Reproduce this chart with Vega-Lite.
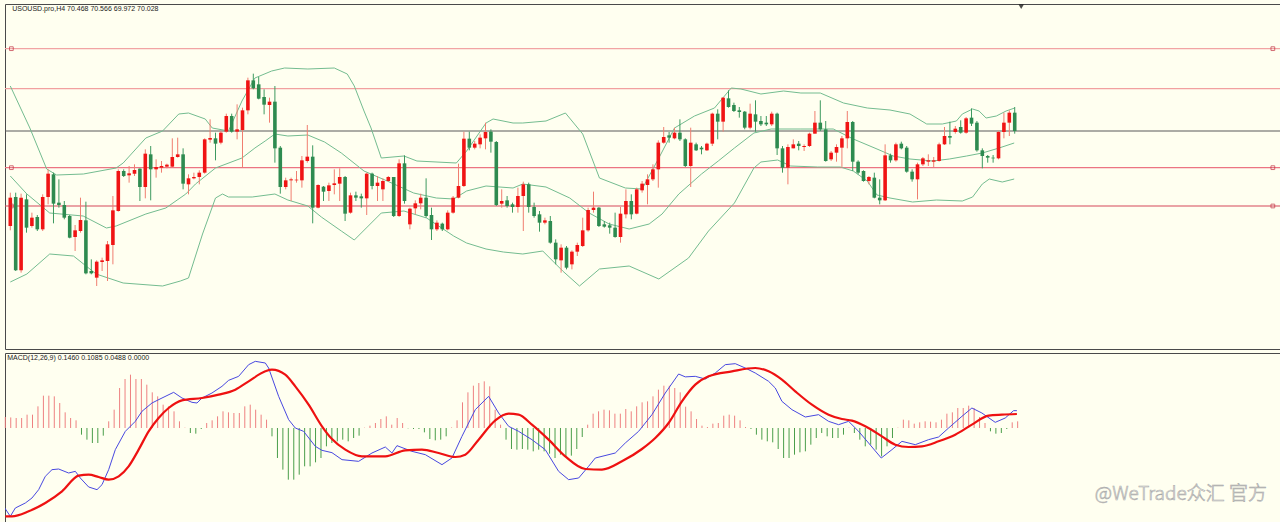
{
"$schema":"https://vega.github.io/schema/vega-lite/v6.json",
"background":"#FFFFF0",
"padding":{"left":3,"top":3,"right":2,"bottom":0},
"spacing":2,
"config":{"view":{"stroke":"#4a4a4a","strokeWidth":1},"axis":{"disable":true},"text":{"font":"Liberation Sans"}},
"datasets":{
"k":[
{"i":1,"o":67.18,"h":68.18,"l":67.05,"c":68.03,"m":0.099},
{"i":2,"o":68.05,"h":68.18,"l":65.83,"c":65.85,"m":0.095},
{"i":3,"o":65.85,"h":68.15,"l":65.78,"c":68.03,"m":0.09},
{"i":4,"o":67.98,"h":68.13,"l":66.98,"c":67.13,"m":0.09},
{"i":5,"o":67.18,"h":67.58,"l":67.13,"c":67.43,"m":0.12},
{"i":6,"o":67.45,"h":67.51,"l":67.03,"c":67.08,"m":0.12},
{"i":7,"o":67.08,"h":68.13,"l":67.03,"c":68.05,"m":0.195},
{"i":8,"o":68.05,"h":68.88,"l":67.83,"c":68.75,"m":0.291},
{"i":9,"o":68.73,"h":68.78,"l":67.26,"c":67.85,"m":0.291},
{"i":10,"o":67.88,"h":68.58,"l":67.73,"c":67.81,"m":0.285},
{"i":11,"o":67.81,"h":67.93,"l":67.38,"c":67.43,"m":0.225},
{"i":12,"o":67.48,"h":67.51,"l":66.81,"c":66.83,"m":0.141},
{"i":13,"o":66.85,"h":67.21,"l":66.43,"c":67.05,"m":0.09},
{"i":14,"o":67.03,"h":68.03,"l":66.98,"c":67.36,"m":0.069},
{"i":15,"o":67.35,"h":67.91,"l":65.73,"c":65.76,"m":-0.06},
{"i":16,"o":65.83,"h":66.18,"l":65.73,"c":65.76,"m":-0.105},
{"i":17,"o":65.63,"h":66.15,"l":65.38,"c":66.11,"m":-0.135},
{"i":18,"o":66.10,"h":66.23,"l":65.83,"c":66.15,"m":-0.135},
{"i":19,"o":66.13,"h":66.73,"l":65.53,"c":66.63,"m":-0.069},
{"i":20,"o":66.61,"h":68.08,"l":66.03,"c":67.65,"m":0.06},
{"i":21,"o":67.63,"h":68.88,"l":67.61,"c":68.83,"m":0.165},
{"i":22,"o":68.83,"h":68.88,"l":68.65,"c":68.68,"m":0.36},
{"i":23,"o":68.70,"h":68.98,"l":68.48,"c":68.76,"m":0.441},
{"i":24,"o":68.75,"h":69.03,"l":68.68,"c":68.86,"m":0.48},
{"i":25,"o":68.90,"h":68.91,"l":67.93,"c":68.35,"m":0.441},
{"i":26,"o":68.35,"h":69.48,"l":68.01,"c":69.35,"m":0.441},
{"i":27,"o":69.33,"h":69.58,"l":67.95,"c":68.88,"m":0.39},
{"i":28,"o":68.88,"h":69.18,"l":68.63,"c":68.95,"m":0.321},
{"i":29,"o":68.93,"h":69.13,"l":68.78,"c":68.98,"m":0.285},
{"i":30,"o":68.96,"h":69.05,"l":68.91,"c":69.02,"m":0.21},
{"i":31,"o":68.96,"h":69.81,"l":68.93,"c":69.25,"m":0.195},
{"i":32,"o":69.25,"h":69.83,"l":69.23,"c":69.33,"m":0.15},
{"i":33,"o":69.33,"h":69.51,"l":68.28,"c":68.45,"m":0.06},
{"i":34,"o":68.43,"h":68.73,"l":68.13,"c":68.61,"m":0.003},
{"i":35,"o":68.61,"h":68.78,"l":68.58,"c":68.65,"m":-0.045},
{"i":36,"o":68.65,"h":68.85,"l":68.43,"c":68.78,"m":-0.051},
{"i":37,"o":68.78,"h":69.81,"l":68.75,"c":69.78,"m":-0.009},
{"i":38,"o":69.77,"h":70.38,"l":69.68,"c":69.82,"m":0.045},
{"i":39,"o":69.81,"h":69.98,"l":69.15,"c":69.65,"m":0.069},
{"i":40,"o":69.68,"h":70.03,"l":69.63,"c":69.98,"m":0.105},
{"i":41,"o":70.01,"h":70.55,"l":69.98,"c":70.48,"m":0.15},
{"i":42,"o":70.48,"h":70.55,"l":69.98,"c":70.01,"m":0.141},
{"i":43,"o":70.01,"h":70.83,"l":69.78,"c":70.08,"m":0.135},
{"i":44,"o":70.06,"h":70.73,"l":68.93,"c":70.65,"m":0.135},
{"i":45,"o":70.65,"h":71.63,"l":70.53,"c":71.55,"m":0.195},
{"i":46,"o":71.55,"h":71.75,"l":71.28,"c":71.31,"m":0.21},
{"i":47,"o":71.43,"h":71.65,"l":70.98,"c":71.00,"m":0.165},
{"i":48,"o":71.05,"h":71.28,"l":70.53,"c":70.82,"m":0.12},
{"i":49,"o":70.81,"h":71.03,"l":70.28,"c":70.91,"m":0.075},
{"i":50,"o":70.91,"h":71.38,"l":69.08,"c":69.51,"m":-0.075},
{"i":51,"o":69.53,"h":69.58,"l":68.15,"c":68.35,"m":-0.27},
{"i":52,"o":68.35,"h":68.63,"l":68.28,"c":68.55,"m":-0.375},
{"i":53,"o":68.55,"h":68.63,"l":67.93,"c":68.58,"m":-0.465},
{"i":54,"o":68.55,"h":68.83,"l":68.48,"c":68.57,"m":-0.465},
{"i":55,"o":68.55,"h":69.28,"l":68.33,"c":69.15,"m":-0.42},
{"i":56,"o":69.13,"h":70.21,"l":69.08,"c":69.26,"m":-0.345},
{"i":57,"o":69.26,"h":69.60,"l":67.26,"c":67.73,"m":-0.345},
{"i":58,"o":67.73,"h":68.43,"l":67.71,"c":68.41,"m":-0.309},
{"i":59,"o":68.36,"h":68.38,"l":67.93,"c":68.21,"m":-0.27},
{"i":60,"o":68.23,"h":68.48,"l":67.93,"c":68.40,"m":-0.165},
{"i":61,"o":68.41,"h":68.88,"l":68.13,"c":68.46,"m":-0.135},
{"i":62,"o":68.45,"h":68.91,"l":67.93,"c":68.65,"m":-0.12},
{"i":63,"o":68.65,"h":68.68,"l":67.33,"c":67.55,"m":-0.105},
{"i":64,"o":67.58,"h":68.18,"l":67.55,"c":68.10,"m":-0.12},
{"i":65,"o":68.10,"h":68.21,"l":67.93,"c":68.03,"m":-0.09},
{"i":66,"o":68.07,"h":68.15,"l":67.73,"c":68.01,"m":-0.069},
{"i":67,"o":68.01,"h":68.78,"l":67.51,"c":68.75,"m":0.003},
{"i":68,"o":68.75,"h":68.78,"l":68.28,"c":68.38,"m":0.021},
{"i":69,"o":68.38,"h":68.68,"l":67.93,"c":68.48,"m":0.045},
{"i":70,"o":68.28,"h":68.61,"l":67.93,"c":68.53,"m":0.081},
{"i":71,"o":68.53,"h":68.68,"l":68.51,"c":68.65,"m":0.105},
{"i":72,"o":68.65,"h":68.65,"l":67.45,"c":67.48,"m":0.03},
{"i":73,"o":67.48,"h":69.18,"l":67.45,"c":69.06,"m":0.09},
{"i":74,"o":69.06,"h":69.30,"l":67.85,"c":67.93,"m":0.045},
{"i":75,"o":67.23,"h":67.73,"l":67.08,"c":67.70,"m":-0.003},
{"i":76,"o":67.71,"h":67.95,"l":67.53,"c":67.86,"m":-0.009},
{"i":77,"o":67.86,"h":68.15,"l":67.68,"c":68.03,"m":-0.009},
{"i":78,"o":68.03,"h":68.61,"l":67.43,"c":67.48,"m":-0.039},
{"i":79,"o":67.51,"h":67.73,"l":66.76,"c":67.08,"m":-0.099},
{"i":80,"o":67.08,"h":67.35,"l":67.03,"c":67.28,"m":-0.111},
{"i":81,"o":67.25,"h":67.28,"l":67.03,"c":67.08,"m":-0.105},
{"i":82,"o":67.08,"h":67.65,"l":67.05,"c":67.58,"m":-0.075},
{"i":83,"o":67.58,"h":68.08,"l":67.55,"c":68.03,"m":0.005},
{"i":84,"o":68.03,"h":69.05,"l":68.01,"c":68.38,"m":0.069},
{"i":85,"o":68.38,"h":70.01,"l":68.35,"c":69.80,"m":0.231},
{"i":86,"o":69.80,"h":70.01,"l":69.45,"c":69.53,"m":0.321},
{"i":87,"o":69.53,"h":69.73,"l":69.48,"c":69.65,"m":0.381},
{"i":88,"o":69.63,"h":69.93,"l":69.51,"c":69.83,"m":0.405},
{"i":89,"o":69.81,"h":70.28,"l":69.48,"c":70.00,"m":0.42},
{"i":90,"o":70.01,"h":70.08,"l":69.38,"c":69.71,"m":0.375},
{"i":91,"o":69.70,"h":69.73,"l":67.78,"c":67.81,"m":0.165},
{"i":92,"o":67.85,"h":68.28,"l":67.73,"c":67.93,"m":0.03},
{"i":93,"o":67.95,"h":68.08,"l":67.73,"c":67.78,"m":-0.105},
{"i":94,"o":67.83,"h":67.88,"l":67.58,"c":67.75,"m":-0.189},
{"i":95,"o":67.75,"h":68.33,"l":67.58,"c":68.08,"m":-0.195},
{"i":96,"o":68.08,"h":68.51,"l":67.03,"c":68.43,"m":-0.189},
{"i":97,"o":68.43,"h":68.48,"l":67.58,"c":67.75,"m":-0.195},
{"i":98,"o":67.75,"h":67.88,"l":67.43,"c":67.48,"m":-0.21},
{"i":99,"o":67.53,"h":67.63,"l":67.01,"c":67.28,"m":-0.195},
{"i":100,"o":67.28,"h":67.43,"l":67.23,"c":67.35,"m":-0.21},
{"i":101,"o":67.33,"h":67.48,"l":66.65,"c":66.68,"m":-0.231},
{"i":102,"o":66.68,"h":66.78,"l":66.03,"c":66.18,"m":-0.27},
{"i":103,"o":66.15,"h":66.63,"l":65.78,"c":66.53,"m":-0.24},
{"i":104,"o":66.53,"h":66.58,"l":65.88,"c":65.93,"m":-0.255},
{"i":105,"o":66.03,"h":66.45,"l":65.88,"c":66.41,"m":-0.249},
{"i":106,"o":66.41,"h":66.68,"l":66.28,"c":66.61,"m":-0.189},
{"i":107,"o":66.58,"h":67.43,"l":66.55,"c":67.05,"m":-0.081},
{"i":108,"o":67.05,"h":67.73,"l":67.01,"c":67.66,"m":0.03},
{"i":109,"o":67.66,"h":68.21,"l":67.58,"c":67.73,"m":0.129},
{"i":110,"o":67.73,"h":67.75,"l":67.15,"c":67.18,"m":0.15},
{"i":111,"o":67.23,"h":67.33,"l":67.13,"c":67.16,"m":0.165},
{"i":112,"o":67.20,"h":67.28,"l":66.95,"c":67.13,"m":0.159},
{"i":113,"o":67.13,"h":67.58,"l":66.83,"c":66.85,"m":0.129},
{"i":114,"o":66.85,"h":67.75,"l":66.68,"c":67.55,"m":0.129},
{"i":115,"o":67.53,"h":68.28,"l":67.41,"c":67.93,"m":0.171},
{"i":116,"o":67.93,"h":68.13,"l":67.38,"c":67.53,"m":0.15},
{"i":117,"o":67.55,"h":68.33,"l":67.53,"c":68.28,"m":0.195},
{"i":118,"o":68.25,"h":68.53,"l":68.18,"c":68.45,"m":0.231},
{"i":119,"o":68.41,"h":68.73,"l":67.83,"c":68.58,"m":0.24},
{"i":120,"o":68.58,"h":69.03,"l":68.53,"c":68.88,"m":0.285},
{"i":121,"o":68.88,"h":69.75,"l":68.33,"c":69.68,"m":0.345},
{"i":122,"o":69.68,"h":70.15,"l":69.65,"c":69.85,"m":0.381},
{"i":123,"o":69.90,"h":70.00,"l":69.68,"c":69.83,"m":0.381},
{"i":124,"o":69.81,"h":70.13,"l":69.78,"c":69.98,"m":0.36},
{"i":125,"o":69.98,"h":70.38,"l":69.73,"c":69.78,"m":0.321},
{"i":126,"o":69.78,"h":69.81,"l":68.95,"c":68.98,"m":0.192},
{"i":127,"o":68.98,"h":70.13,"l":68.35,"c":69.68,"m":0.15},
{"i":128,"o":69.63,"h":69.68,"l":69.43,"c":69.45,"m":0.081},
{"i":129,"o":69.53,"h":69.58,"l":69.33,"c":69.48,"m":0.021},
{"i":130,"o":69.45,"h":69.68,"l":69.43,"c":69.65,"m":0.009},
{"i":131,"o":69.65,"h":70.58,"l":69.58,"c":70.55,"m":0.039},
{"i":132,"o":70.55,"h":70.68,"l":69.78,"c":70.31,"m":0.045},
{"i":133,"o":70.31,"h":71.05,"l":70.01,"c":71.03,"m":0.111},
{"i":134,"o":71.01,"h":71.25,"l":70.73,"c":70.75,"m":0.12},
{"i":135,"o":70.81,"h":70.88,"l":70.60,"c":70.63,"m":0.111},
{"i":136,"o":70.65,"h":70.75,"l":70.43,"c":70.60,"m":0.069},
{"i":137,"o":70.61,"h":70.63,"l":70.08,"c":70.13,"m":0.009},
{"i":138,"o":70.13,"h":70.85,"l":70.08,"c":70.55,"m":-0.009},
{"i":139,"o":70.53,"h":70.95,"l":70.01,"c":70.31,"m":-0.06},
{"i":140,"o":70.33,"h":70.48,"l":70.18,"c":70.23,"m":-0.105},
{"i":141,"o":70.28,"h":70.48,"l":70.18,"c":70.23,"m":-0.12},
{"i":142,"o":70.23,"h":70.61,"l":70.18,"c":70.55,"m":-0.129},
{"i":143,"o":70.55,"h":70.58,"l":69.31,"c":69.51,"m":-0.189},
{"i":144,"o":69.51,"h":69.58,"l":68.78,"c":68.93,"m":-0.27},
{"i":145,"o":68.93,"h":69.63,"l":68.43,"c":69.55,"m":-0.27},
{"i":146,"o":69.51,"h":69.78,"l":69.51,"c":69.63,"m":-0.24},
{"i":147,"o":69.65,"h":69.73,"l":69.45,"c":69.58,"m":-0.219},
{"i":148,"o":69.55,"h":69.63,"l":69.43,"c":69.58,"m":-0.21},
{"i":149,"o":69.58,"h":69.98,"l":69.55,"c":69.95,"m":-0.15},
{"i":150,"o":69.95,"h":70.63,"l":69.95,"c":70.28,"m":-0.09},
{"i":151,"o":70.28,"h":70.95,"l":70.03,"c":70.08,"m":-0.045},
{"i":152,"o":70.08,"h":70.33,"l":69.11,"c":69.13,"m":-0.075},
{"i":153,"o":69.18,"h":69.43,"l":69.13,"c":69.38,"m":-0.09},
{"i":154,"o":69.38,"h":69.63,"l":69.11,"c":69.55,"m":-0.09},
{"i":155,"o":69.53,"h":69.88,"l":68.93,"c":69.81,"m":-0.06},
{"i":156,"o":69.81,"h":70.63,"l":69.51,"c":70.30,"m":0.003},
{"i":157,"o":70.30,"h":70.33,"l":68.83,"c":69.11,"m":-0.045},
{"i":158,"o":69.11,"h":69.15,"l":68.73,"c":68.78,"m":-0.105},
{"i":159,"o":68.83,"h":68.85,"l":68.51,"c":68.53,"m":-0.165},
{"i":160,"o":68.53,"h":68.68,"l":68.43,"c":68.65,"m":-0.15},
{"i":161,"o":68.63,"h":68.78,"l":68.01,"c":68.03,"m":-0.195},
{"i":162,"o":68.03,"h":68.58,"l":67.83,"c":67.95,"m":-0.255},
{"i":163,"o":67.95,"h":69.63,"l":67.93,"c":69.30,"m":-0.165},
{"i":164,"o":69.30,"h":69.35,"l":69.08,"c":69.15,"m":-0.09},
{"i":165,"o":69.15,"h":69.68,"l":69.11,"c":69.63,"m":0.003},
{"i":166,"o":69.65,"h":69.71,"l":69.48,"c":69.51,"m":0.075},
{"i":167,"o":69.53,"h":69.58,"l":68.78,"c":68.81,"m":0.069},
{"i":168,"o":68.81,"h":68.88,"l":68.51,"c":68.58,"m":0.039},
{"i":169,"o":68.58,"h":69.08,"l":67.98,"c":69.03,"m":0.051},
{"i":170,"o":69.03,"h":69.25,"l":68.98,"c":69.21,"m":0.06},
{"i":171,"o":69.11,"h":69.33,"l":68.98,"c":69.15,"m":0.057},
{"i":172,"o":69.11,"h":69.25,"l":68.95,"c":69.15,"m":0.051},
{"i":173,"o":69.13,"h":69.68,"l":69.11,"c":69.63,"m":0.075},
{"i":174,"o":69.63,"h":70.15,"l":69.61,"c":69.88,"m":0.129},
{"i":175,"o":69.88,"h":70.31,"l":69.63,"c":69.83,"m":0.141},
{"i":176,"o":70.00,"h":70.18,"l":69.95,"c":70.10,"m":0.18},
{"i":177,"o":70.15,"h":70.35,"l":69.95,"c":69.98,"m":0.18},
{"i":178,"o":69.98,"h":70.45,"l":69.95,"c":70.41,"m":0.201},
{"i":179,"o":70.43,"h":70.71,"l":70.18,"c":70.25,"m":0.18},
{"i":180,"o":70.28,"h":70.33,"l":69.41,"c":69.45,"m":0.099},
{"i":181,"o":69.45,"h":69.51,"l":68.91,"c":69.28,"m":0.045},
{"i":182,"o":69.28,"h":69.31,"l":69.08,"c":69.23,"m":-0.03},
{"i":183,"o":69.23,"h":69.31,"l":69.08,"c":69.21,"m":-0.051},
{"i":184,"o":69.21,"h":70.03,"l":69.18,"c":70.00,"m":-0.045},
{"i":185,"o":70.00,"h":70.58,"l":69.81,"c":70.28,"m":-0.009},
{"i":186,"o":70.28,"h":70.65,"l":69.88,"c":70.58,"m":0.051},
{"i":187,"o":70.58,"h":70.75,"l":69.95,"c":70.03,"m":0.06}
],
"bb":[
{"b":"u","i":1,"v":71.38},{"b":"u","i":4.62,"v":70.12},{"b":"u","i":7.74,"v":68.89},{"b":"u","i":9.58,"v":68.71},{"b":"u","i":14.54,"v":68.74},{"b":"u","i":20.6,"v":68.92},{"b":"u","i":21.9,"v":69.07},{"b":"u","i":26.1,"v":69.82},{"b":"u","i":29.2,"v":70.03},{"b":"u","i":32.2,"v":70.54},{"b":"u","i":34.0,"v":70.57},{"b":"u","i":37.1,"v":70.39},{"b":"u","i":38.4,"v":70.12},{"b":"u","i":41.4,"v":70.03},{"b":"u","i":43.9,"v":70.93},{"b":"u","i":46.3,"v":71.62},{"b":"u","i":49.4,"v":71.83},{"b":"u","i":51.8,"v":71.92},{"b":"u","i":56.1,"v":71.89},{"b":"u","i":61.0,"v":71.92},{"b":"u","i":63.4,"v":71.74},{"b":"u","i":64.7,"v":71.38},{"b":"u","i":66.5,"v":70.63},{"b":"u","i":67.8,"v":70.12},{"b":"u","i":69.7,"v":69.22},{"b":"u","i":73.9,"v":69.28},{"b":"u","i":76.3,"v":69.13},{"b":"u","i":83.6,"v":69.07},{"b":"u","i":85.5,"v":69.43},{"b":"u","i":89.1,"v":70.27},{"b":"u","i":90.4,"v":70.39},{"b":"u","i":94.1,"v":70.27},{"b":"u","i":95.9,"v":70.27},{"b":"u","i":100.2,"v":70.33},{"b":"u","i":103.8,"v":70.57},{"b":"u","i":107.0,"v":69.94},{"b":"u","i":110.1,"v":68.62},{"b":"u","i":114.9,"v":68.32},{"b":"u","i":118.0,"v":68.29},{"b":"u","i":121.1,"v":69.22},{"b":"u","i":124.0,"v":70.12},{"b":"u","i":127.7,"v":70.48},{"b":"u","i":131.4,"v":70.72},{"b":"u","i":134.5,"v":71.32},{"b":"u","i":136.3,"v":71.29},{"b":"u","i":140.0,"v":71.14},{"b":"u","i":144.2,"v":71.23},{"b":"u","i":147.4,"v":71.17},{"b":"u","i":151.0,"v":71.17},{"b":"u","i":155.3,"v":70.87},{"b":"u","i":159.7,"v":70.72},{"b":"u","i":163.9,"v":70.66},{"b":"u","i":167.6,"v":70.54},{"b":"u","i":170.7,"v":70.24},{"b":"u","i":173.6,"v":70.24},{"b":"u","i":176.2,"v":70.33},{"b":"u","i":177.3,"v":70.54},{"b":"u","i":179.2,"v":70.69},{"b":"u","i":180.4,"v":70.63},{"b":"u","i":181.7,"v":70.42},{"b":"u","i":183.6,"v":70.48},{"b":"u","i":185.4,"v":70.63},{"b":"u","i":187,"v":70.72},
{"b":"m","i":1,"v":68.68},{"b":"m","i":4.07,"v":68.14},{"b":"m","i":8.3,"v":67.57},{"b":"m","i":14.5,"v":67.48},{"b":"m","i":18.8,"v":67.12},{"b":"m","i":20.6,"v":67.18},{"b":"m","i":26.1,"v":67.54},{"b":"m","i":29.8,"v":67.72},{"b":"m","i":33.5,"v":68.14},{"b":"m","i":35.3,"v":68.44},{"b":"m","i":39.0,"v":68.92},{"b":"m","i":43.9,"v":69.22},{"b":"m","i":46.3,"v":69.52},{"b":"m","i":48.2,"v":69.73},{"b":"m","i":50.0,"v":69.94},{"b":"m","i":52.4,"v":69.88},{"b":"m","i":56.1,"v":69.91},{"b":"m","i":59.2,"v":69.70},{"b":"m","i":62.3,"v":69.37},{"b":"m","i":66.5,"v":68.83},{"b":"m","i":70.8,"v":68.53},{"b":"m","i":75.7,"v":68.17},{"b":"m","i":79.9,"v":68.02},{"b":"m","i":83.1,"v":67.99},{"b":"m","i":85.5,"v":68.23},{"b":"m","i":89.1,"v":68.38},{"b":"m","i":94.1,"v":68.32},{"b":"m","i":95.9,"v":68.44},{"b":"m","i":100.2,"v":68.35},{"b":"m","i":104.6,"v":68.02},{"b":"m","i":108.2,"v":67.57},{"b":"m","i":111.9,"v":67.24},{"b":"m","i":115.6,"v":67.09},{"b":"m","i":119.3,"v":67.24},{"b":"m","i":121.7,"v":67.54},{"b":"m","i":124.8,"v":68.14},{"b":"m","i":129.0,"v":68.74},{"b":"m","i":132.1,"v":69.13},{"b":"m","i":135.1,"v":69.52},{"b":"m","i":138.7,"v":69.97},{"b":"m","i":141.9,"v":70.09},{"b":"m","i":147.4,"v":70.09},{"b":"m","i":153.4,"v":70.09},{"b":"m","i":157.1,"v":69.79},{"b":"m","i":161.5,"v":69.49},{"b":"m","i":164.5,"v":69.28},{"b":"m","i":167.6,"v":69.19},{"b":"m","i":171.8,"v":69.13},{"b":"m","i":174.9,"v":69.19},{"b":"m","i":178.1,"v":69.28},{"b":"m","i":181.0,"v":69.37},{"b":"m","i":184.1,"v":69.52},{"b":"m","i":186.9,"v":69.67},
{"b":"d","i":1,"v":65.50},{"b":"d","i":4.07,"v":65.74},{"b":"d","i":8.3,"v":66.34},{"b":"d","i":12.7,"v":66.28},{"b":"d","i":16.9,"v":65.74},{"b":"d","i":21.9,"v":65.47},{"b":"d","i":29.2,"v":65.38},{"b":"d","i":32.5,"v":65.53},{"b":"d","i":34.0,"v":65.62},{"b":"d","i":36.6,"v":66.94},{"b":"d","i":39.0,"v":68.02},{"b":"d","i":40.3,"v":68.14},{"b":"d","i":41.4,"v":68.05},{"b":"d","i":45.8,"v":68.05},{"b":"d","i":50.0,"v":68.14},{"b":"d","i":52.4,"v":67.96},{"b":"d","i":56.1,"v":67.78},{"b":"d","i":58.6,"v":67.45},{"b":"d","i":62.3,"v":67.03},{"b":"d","i":64.7,"v":66.76},{"b":"d","i":69.7,"v":67.57},{"b":"d","i":73.9,"v":67.63},{"b":"d","i":78.1,"v":67.42},{"b":"d","i":83.1,"v":66.88},{"b":"d","i":85.5,"v":66.67},{"b":"d","i":89.1,"v":66.49},{"b":"d","i":92.3,"v":66.40},{"b":"d","i":95.9,"v":66.34},{"b":"d","i":99.6,"v":66.43},{"b":"d","i":103.3,"v":65.83},{"b":"d","i":106.4,"v":65.38},{"b":"d","i":110.1,"v":65.89},{"b":"d","i":115.6,"v":65.98},{"b":"d","i":121.1,"v":65.59},{"b":"d","i":126.6,"v":66.22},{"b":"d","i":130.3,"v":67.03},{"b":"d","i":135.1,"v":67.87},{"b":"d","i":138.7,"v":68.92},{"b":"d","i":140.0,"v":69.10},{"b":"d","i":143.1,"v":69.16},{"b":"d","i":145.5,"v":68.98},{"b":"d","i":150.5,"v":68.95},{"b":"d","i":154.7,"v":68.95},{"b":"d","i":157.1,"v":68.83},{"b":"d","i":159.7,"v":68.53},{"b":"d","i":161.5,"v":68.11},{"b":"d","i":163.9,"v":68.02},{"b":"d","i":168.1,"v":67.90},{"b":"d","i":172.5,"v":67.96},{"b":"d","i":177.3,"v":67.93},{"b":"d","i":179.2,"v":68.05},{"b":"d","i":181.0,"v":68.44},{"b":"d","i":182.3,"v":68.59},{"b":"d","i":184.7,"v":68.50},{"b":"d","i":186.9,"v":68.59}
],
"macd":[
{"i":0.7,"v":-0.705},{"i":1.92,"v":-0.795},{"i":2.84,"v":-0.72},{"i":4.68,"v":-0.675},{"i":5.9,"v":-0.63},{"i":7.13,"v":-0.555},{"i":8.35,"v":-0.435},{"i":9.58,"v":-0.375},{"i":10.8,"v":-0.369},{"i":12.64,"v":-0.405},{"i":13.87,"v":-0.39},{"i":14.78,"v":-0.45},{"i":16.32,"v":-0.531},{"i":17.85,"v":-0.555},{"i":18.77,"v":-0.51},{"i":19.99,"v":-0.375},{"i":21.21,"v":-0.195},{"i":23.05,"v":-0.03},{"i":24.89,"v":0.06},{"i":26.11,"v":0.15},{"i":27.95,"v":0.225},{"i":29.79,"v":0.27},{"i":31.93,"v":0.321},{"i":33.46,"v":0.27},{"i":35.3,"v":0.231},{"i":36.22,"v":0.225},{"i":37.14,"v":0.27},{"i":38.97,"v":0.315},{"i":40.81,"v":0.375},{"i":42.03,"v":0.429},{"i":43.87,"v":0.465},{"i":45.71,"v":0.57},{"i":46.93,"v":0.6},{"i":48.77,"v":0.585},{"i":49.38,"v":0.54},{"i":51.22,"v":0.285},{"i":53.06,"v":0.075},{"i":54.28,"v":0},{"i":55.81,"v":-0.03},{"i":57.96,"v":-0.165},{"i":59.18,"v":-0.201},{"i":61.02,"v":-0.222},{"i":62.86,"v":-0.285},{"i":65.92,"v":-0.3},{"i":68.37,"v":-0.225},{"i":70.82,"v":-0.171},{"i":72.04,"v":-0.225},{"i":72.96,"v":-0.159},{"i":75.72,"v":-0.21},{"i":78.17,"v":-0.24},{"i":81.23,"v":-0.33},{"i":83.06,"v":-0.27},{"i":84.9,"v":-0.075},{"i":87.35,"v":0.165},{"i":89.8,"v":0.285},{"i":91.64,"v":0.135},{"i":93.48,"v":0.015},{"i":95.31,"v":-0.03},{"i":97.76,"v":-0.105},{"i":100.21,"v":-0.195},{"i":102.66,"v":-0.39},{"i":104.5,"v":-0.465},{"i":106.34,"v":-0.45},{"i":108.17,"v":-0.345},{"i":109.4,"v":-0.27},{"i":113.07,"v":-0.225},{"i":114.91,"v":-0.135},{"i":117.36,"v":-0.03},{"i":119.81,"v":0.12},{"i":122.26,"v":0.315},{"i":124.71,"v":0.486},{"i":125.93,"v":0.46},{"i":127.77,"v":0.465},{"i":129.61,"v":0.441},{"i":131.44,"v":0.495},{"i":133.28,"v":0.57},{"i":135.12,"v":0.579},{"i":136.95,"v":0.54},{"i":138.79,"v":0.495},{"i":141.24,"v":0.42},{"i":142.47,"v":0.36},{"i":143.69,"v":0.24},{"i":145.53,"v":0.165},{"i":147.98,"v":0.099},{"i":150.43,"v":0.12},{"i":152.26,"v":0.06},{"i":154.1,"v":0.03},{"i":155.94,"v":0.06},{"i":157.78,"v":-0.03},{"i":159.61,"v":-0.135},{"i":161.94,"v":-0.27},{"i":163.9,"v":-0.195},{"i":165.74,"v":-0.12},{"i":168.19,"v":-0.15},{"i":170.63,"v":-0.105},{"i":172.47,"v":-0.081},{"i":174.31,"v":0},{"i":176.76,"v":0.105},{"i":178.59,"v":0.18},{"i":180.43,"v":0.135},{"i":182.88,"v":0.051},{"i":184.72,"v":0.09},{"i":186.25,"v":0.156},{"i":186.86,"v":0.156}
],
"sig":[
{"i":1,"v":-0.795},{"i":2.23,"v":-0.795},{"i":5.29,"v":-0.75},{"i":8.35,"v":-0.675},{"i":11.42,"v":-0.57},{"i":14.48,"v":-0.429},{"i":16.32,"v":-0.42},{"i":18.15,"v":-0.441},{"i":19.99,"v":-0.465},{"i":21.83,"v":-0.435},{"i":23.66,"v":-0.345},{"i":25.5,"v":-0.195},{"i":27.34,"v":-0.03},{"i":29.17,"v":0.09},{"i":31.01,"v":0.18},{"i":33.46,"v":0.249},{"i":37.14,"v":0.27},{"i":40.2,"v":0.3},{"i":43.26,"v":0.345},{"i":45.71,"v":0.42},{"i":48.77,"v":0.51},{"i":49.99,"v":0.525},{"i":52.44,"v":0.48},{"i":54.28,"v":0.375},{"i":56.73,"v":0.21},{"i":59.18,"v":0.015},{"i":61.02,"v":-0.1},{"i":63.47,"v":-0.195},{"i":66.53,"v":-0.255},{"i":70.82,"v":-0.255},{"i":74.49,"v":-0.201},{"i":77.55,"v":-0.195},{"i":80.62,"v":-0.225},{"i":83.68,"v":-0.261},{"i":85.51,"v":-0.24},{"i":87.96,"v":-0.105},{"i":91.03,"v":0.069},{"i":93.48,"v":0.129},{"i":95.31,"v":0.12},{"i":97.76,"v":0.03},{"i":100.82,"v":-0.105},{"i":103.89,"v":-0.255},{"i":107.56,"v":-0.369},{"i":110.62,"v":-0.375},{"i":114.3,"v":-0.3},{"i":117.97,"v":-0.189},{"i":120.42,"v":-0.09},{"i":122.87,"v":0.045},{"i":125.32,"v":0.24},{"i":127.77,"v":0.39},{"i":130.22,"v":0.465},{"i":134.51,"v":0.51},{"i":138.79,"v":0.54},{"i":141.24,"v":0.51},{"i":143.69,"v":0.435},{"i":146.14,"v":0.33},{"i":149.2,"v":0.21},{"i":152.26,"v":0.12},{"i":154.71,"v":0.081},{"i":156.55,"v":0.066},{"i":159.0,"v":0.015},{"i":162.06,"v":-0.075},{"i":164.51,"v":-0.15},{"i":166.96,"v":-0.171},{"i":169.41,"v":-0.165},{"i":172.47,"v":-0.12},{"i":175.53,"v":-0.06},{"i":178.59,"v":0.03},{"i":181.66,"v":0.111},{"i":184.11,"v":0.12},{"i":186.86,"v":0.126}
],
"lv":[{"n":"a","p":72.50},{"n":"b","p":71.30},{"n":"bid","p":70.03},{"n":"c","p":68.93},{"n":"d","p":67.78}]
},
"vconcat":[
{"width":1275,"height":345,
"layer":[
{"data":{"name":"lv"},"mark":{"type":"rule","strokeWidth":1.2},
"encoding":{"y":{"field":"p","type":"quantitative","scale":{"domain":[63.49,73.84],"nice":false,"zero":false},"axis":null},
"color":{"field":"n","type":"nominal","scale":{"domain":["a","b","bid","c","d"],"range":["#F2A4A4","#F2A0A0","#5A5A5A","#EC7482","#D6495A"]},"legend":null}}},
{"data":{"name":"bb"},"mark":{"type":"line","strokeWidth":1,"color":"#74BC90","clip":true},
"encoding":{"x":{"field":"i","type":"quantitative","scale":{"domain":[0.945,235.2],"nice":false,"zero":false},"axis":null},
"y":{"field":"v","type":"quantitative","scale":{"domain":[63.49,73.84],"nice":false,"zero":false},"axis":null},
"detail":{"field":"b"}}},
{"data":{"name":"k"},"mark":{"type":"rule","strokeWidth":1},
"encoding":{"x":{"field":"i","type":"quantitative","scale":{"domain":[0.945,235.2],"nice":false,"zero":false},"axis":null},
"y":{"field":"l","type":"quantitative","scale":{"domain":[63.49,73.84],"nice":false,"zero":false},"axis":null},
"y2":{"field":"h"},
"color":{"condition":{"test":"datum.c >= datum.o","value":"#F07E70"},"value":"#3E9A60"}}},
{"data":{"name":"k"},"mark":{"type":"bar","size":3.6},
"encoding":{"x":{"field":"i","type":"quantitative","scale":{"domain":[0.945,235.2],"nice":false,"zero":false},"axis":null},
"y":{"field":"o","type":"quantitative","scale":{"domain":[63.49,73.84],"nice":false,"zero":false},"axis":null},
"y2":{"field":"c"},
"color":{"condition":{"test":"datum.c >= datum.o","value":"#F01414"},"value":"#2E8B50"}}},
{"data":{"values":[{"t":"USOUSD.pro,H4  70.468 70.566 69.972 70.028"}]},
"mark":{"type":"text","align":"left","baseline":"middle","fontSize":7,"color":"#222222"},
"encoding":{"x":{"datum":1.35,"type":"quantitative","scale":{"domain":[0.945,235.2],"nice":false,"zero":false}},
"y":{"datum":73.69,"type":"quantitative","scale":{"domain":[63.49,73.84],"nice":false,"zero":false}},
"text":{"field":"t"}}},
{"data":{"values":[{"n":"a","p":72.50},{"n":"c","p":68.93},{"n":"d","p":67.78}]},
"mark":{"type":"point","shape":"square","size":14,"filled":false,"strokeWidth":1,"color":"#C03040"},
"encoding":{"x":{"datum":1.2,"type":"quantitative","scale":{"domain":[0.945,235.2],"nice":false,"zero":false}},
"y":{"field":"p","type":"quantitative","scale":{"domain":[63.49,73.84],"nice":false,"zero":false}}}},
{"data":{"values":[{"n":"a","p":72.50},{"n":"c","p":68.93},{"n":"d","p":67.78}]},
"mark":{"type":"point","shape":"square","size":14,"filled":false,"strokeWidth":1,"color":"#C03040"},
"encoding":{"x":{"datum":234.8,"type":"quantitative","scale":{"domain":[0.945,235.2],"nice":false,"zero":false}},
"y":{"field":"p","type":"quantitative","scale":{"domain":[63.49,73.84],"nice":false,"zero":false}}}},
{"data":{"values":[{"n":"shift"}]},
"mark":{"type":"point","shape":"triangle-down","size":28,"filled":true,"color":"#000000"},
"encoding":{"x":{"datum":188.2,"type":"quantitative","scale":{"domain":[0.945,235.2],"nice":false,"zero":false}},
"y":{"datum":73.76,"type":"quantitative","scale":{"domain":[63.49,73.84],"nice":false,"zero":false}}}}
]},
{"width":1275,"height":172,
"layer":[
{"data":{"name":"k"},"mark":{"type":"rule","strokeWidth":1},
"encoding":{"x":{"field":"i","type":"quantitative","scale":{"domain":[0.945,235.2],"nice":false,"zero":false},"axis":null},
"y":{"field":"m","type":"quantitative","scale":{"domain":[-0.873,0.675],"nice":false,"zero":false},"axis":null},
"y2":{"datum":0},
"color":{"condition":{"test":"datum.m > 0","value":"#EE8080"},"value":"#4A9E4A"}}},
{"data":{"name":"macd"},"mark":{"type":"line","strokeWidth":1,"color":"#4848E0","clip":true},
"encoding":{"x":{"field":"i","type":"quantitative","scale":{"domain":[0.945,235.2],"nice":false,"zero":false},"axis":null},
"y":{"field":"v","type":"quantitative","scale":{"domain":[-0.873,0.675],"nice":false,"zero":false},"axis":null}}},
{"data":{"name":"sig"},"mark":{"type":"line","strokeWidth":2.2,"color":"#EE1111","interpolate":"monotone","clip":true},
"encoding":{"x":{"field":"i","type":"quantitative","scale":{"domain":[0.945,235.2],"nice":false,"zero":false},"axis":null},
"y":{"field":"v","type":"quantitative","scale":{"domain":[-0.873,0.675],"nice":false,"zero":false},"axis":null}}},
{"data":{"values":[{"t":"MACD(12,26,9) 0.1460 0.1085 0.0488 0.0000"}]},
"mark":{"type":"text","align":"left","baseline":"middle","fontSize":7,"color":"#222222"},
"encoding":{"x":{"datum":1.35,"type":"quantitative","scale":{"domain":[0.945,235.2],"nice":false,"zero":false}},
"y":{"datum":0.63,"type":"quantitative","scale":{"domain":[-0.873,0.675],"nice":false,"zero":false}},
"text":{"field":"t"}}},
{"data":{"values":[{"t":"@WeTrade众汇 官方"}]},
"mark":{"type":"text","align":"right","baseline":"middle","fontSize":19,"font":"Noto Sans CJK SC","fontWeight":300,"fill":"#F6F6F2","stroke":"#A8A8A8","strokeWidth":0.6},
"encoding":{"x":{"datum":232.8,"type":"quantitative","scale":{"domain":[0.945,235.2],"nice":false,"zero":false}},
"y":{"datum":-0.594,"type":"quantitative","scale":{"domain":[-0.873,0.675],"nice":false,"zero":false}},
"text":{"field":"t"}}}
]}
]
}
